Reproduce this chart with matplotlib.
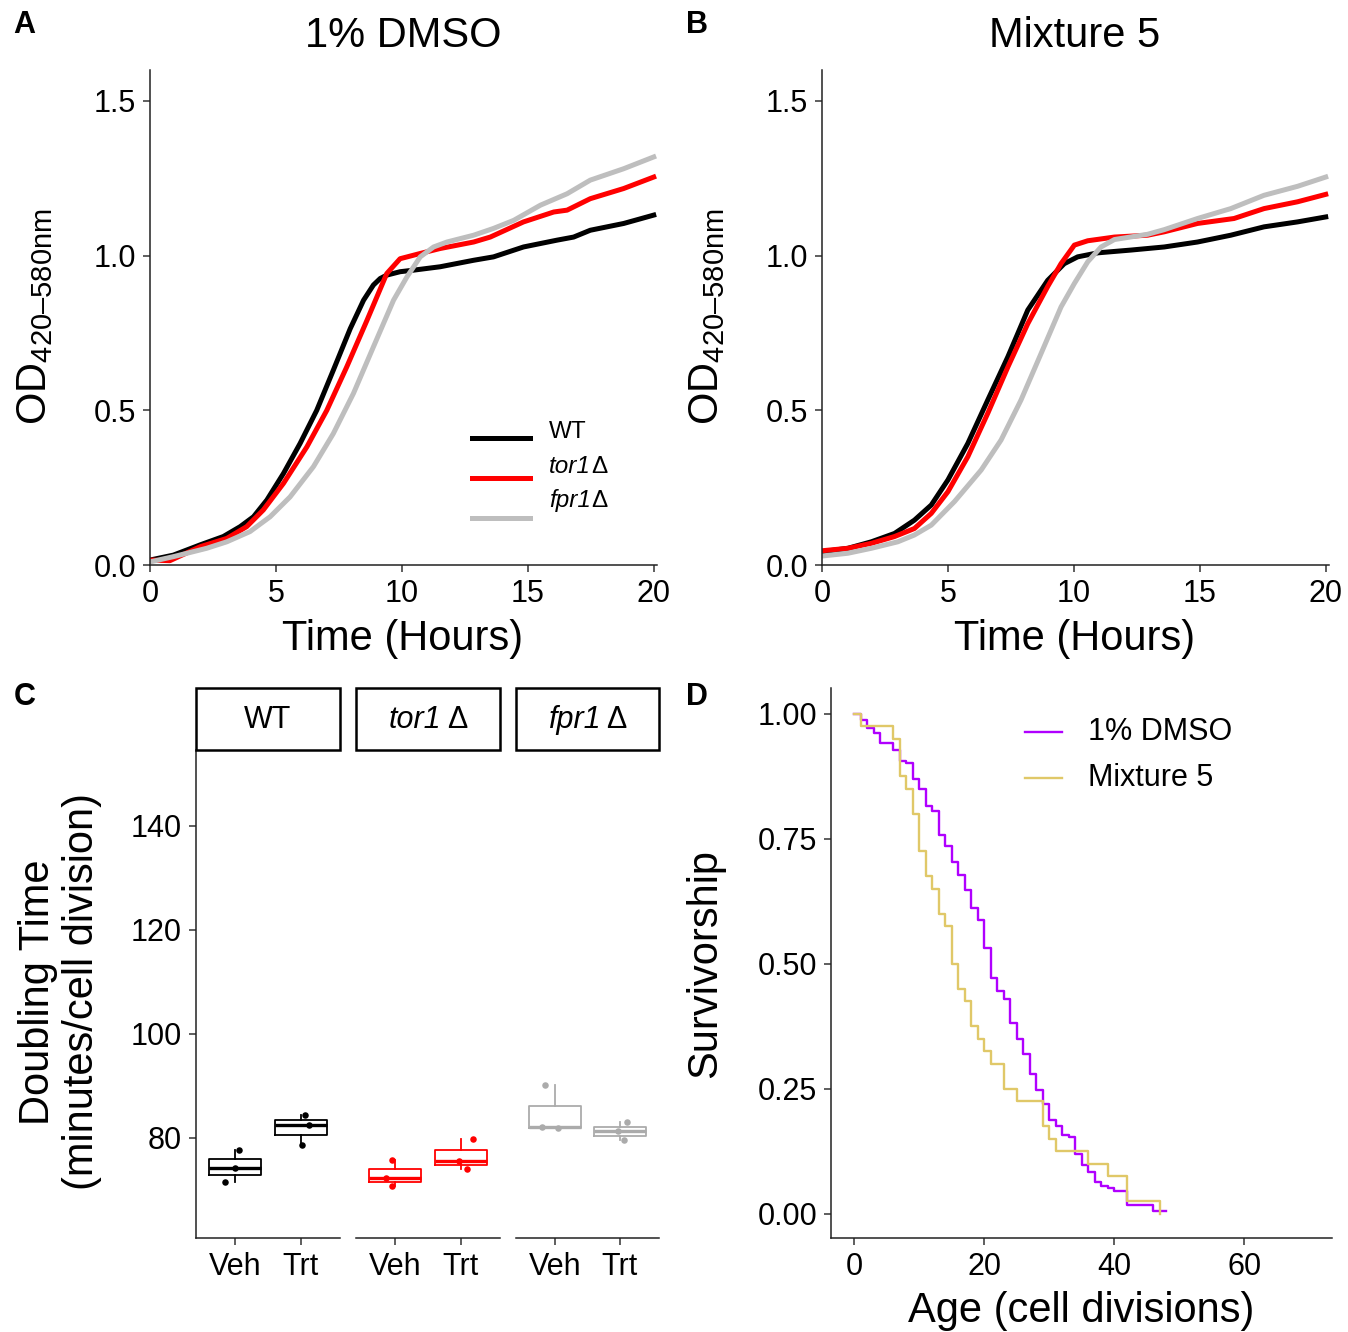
import numpy as np
import matplotlib
matplotlib.use('Agg')
import matplotlib.pyplot as plt
from matplotlib.lines import Line2D
from matplotlib.patches import Rectangle

plt.rcParams['font.family'] = ['Liberation Sans', 'DejaVu Sans']
plt.rcParams['mathtext.fontset'] = 'custom'
plt.rcParams['mathtext.rm'] = 'Liberation Sans'

W, H = 1348, 1332

# growth curves, panel A (1% DMSO)
a_wt_t = [0, 0.93, 1.99, 2.91, 3.58, 4.11, 4.64, 5.30, 5.96, 6.62, 7.28, 7.95, 8.48, 8.87, 9.14,
          9.4, 9.93, 10.46, 11.52, 12.85, 13.64, 14.83, 16.16, 16.82, 17.48, 18.81, 20.0]
a_wt_od = [0.016, 0.032, 0.065, 0.092, 0.124, 0.156, 0.21, 0.296, 0.393, 0.50, 0.63, 0.764, 0.856,
           0.905, 0.926, 0.937, 0.948, 0.953, 0.964, 0.985, 0.996, 1.028, 1.05, 1.06, 1.082, 1.104,
           1.131]
a_tor_t = [0, 0.79, 1.99, 3.05, 3.84, 4.50, 5.30, 6.23, 7.02, 7.81, 8.61, 9.40, 9.93, 10.73, 11.52,
           12.85, 13.51, 14.83, 16.03, 16.56, 17.48, 18.81, 20.0]
a_tor_od = [0.016, 0.014, 0.059, 0.086, 0.124, 0.178, 0.264, 0.382, 0.50, 0.64, 0.79, 0.942, 0.99,
            1.007, 1.023, 1.044, 1.06, 1.109, 1.141, 1.147, 1.184, 1.217, 1.254]
a_fpr_t = [0, 0.93, 2.25, 3.05, 3.97, 4.77, 5.56, 6.49, 7.28, 8.08, 8.87, 9.67, 10.2, 10.73, 11.26,
           11.79, 12.85, 13.64, 14.44, 15.5, 16.56, 17.48, 18.81, 20.0]
a_fpr_od = [0.01, 0.027, 0.054, 0.075, 0.108, 0.156, 0.22, 0.318, 0.425, 0.555, 0.705, 0.856, 0.931,
            0.996, 1.028, 1.044, 1.066, 1.088, 1.114, 1.163, 1.2, 1.244, 1.281, 1.319]

# growth curves, panel B (Mixture 5)
b_wt_t = [0, 1.03, 1.96, 2.88, 3.67, 4.34, 5.0, 5.79, 6.58, 7.38, 8.17, 8.96, 9.62, 10.15, 10.95,
          12.27, 13.59, 14.91, 16.23, 17.55, 18.88, 20.0]
b_wt_od = [0.043, 0.054, 0.075, 0.102, 0.145, 0.194, 0.275, 0.393, 0.533, 0.673, 0.824, 0.92, 0.974,
           0.996, 1.009, 1.018, 1.028, 1.044, 1.066, 1.093, 1.109, 1.125]
b_tor_t = [0, 1.03, 1.96, 2.88, 3.67, 4.34, 5.0, 5.79, 6.58, 7.38, 8.17, 8.96, 9.49, 10.02, 10.55,
           11.61, 12.93, 13.59, 14.91, 16.36, 17.55, 18.88, 20.0]
b_tor_od = [0.046, 0.054, 0.07, 0.092, 0.118, 0.167, 0.237, 0.35, 0.49, 0.64, 0.78, 0.90, 0.974,
            1.034, 1.048, 1.06, 1.066, 1.077, 1.104, 1.12, 1.152, 1.174, 1.198]
b_fpr_t = [0, 1.03, 1.96, 3.01, 3.67, 4.34, 5.26, 6.32, 7.11, 7.9, 8.7, 9.49, 10.02, 10.55, 11.08,
           11.61, 12.93, 13.59, 14.91, 16.23, 17.55, 18.88, 20.0]
b_fpr_od = [0.029, 0.038, 0.054, 0.075, 0.097, 0.129, 0.205, 0.307, 0.404, 0.533, 0.684, 0.834, 0.91,
            0.98, 1.028, 1.052, 1.069, 1.084, 1.12, 1.152, 1.195, 1.224, 1.254]

strains = ['WT', 'tor1', 'fpr1']       # gene names drawn in italics, followed by Δ
strain_cols = ['#000000', '#FF0000', '#BEBEBE']

# doubling times (minutes / cell division), 3 replicates each
wt_veh = [77.6, 74.1, 71.4]
wt_trt = [84.3, 82.4, 78.5]
tor_veh = [75.7, 72.2, 70.8]
tor_trt = [79.75, 75.6, 74.0]
fpr_veh = [90.2, 82.05, 81.85]
fpr_trt = [83.0, 81.3, 79.5]
box_cols = ['#000000', '#FF0000', '#ABABAB']

# replicative lifespan survival curves
dmso_age = [0, 1, 2, 3, 4, 6, 7, 8, 9, 10, 11, 12, 13, 14, 15, 16, 17, 18, 19, 20, 21, 22, 23, 24,
            25, 26, 27, 28, 29, 30, 31, 32, 33, 34, 35, 36, 37, 38, 39, 40, 42, 46, 48]
dmso_surv = [1.0, 0.987, 0.971, 0.961, 0.941, 0.927, 0.906, 0.901, 0.870, 0.850, 0.815, 0.805, 0.758,
             0.735, 0.703, 0.678, 0.648, 0.611, 0.588, 0.531, 0.471, 0.446, 0.430, 0.381, 0.349,
             0.319, 0.279, 0.248, 0.219, 0.188, 0.175, 0.158, 0.153, 0.119, 0.098, 0.083, 0.063,
             0.056, 0.051, 0.046, 0.017, 0.005, 0.005]
mix_death_age = [1, 6, 7, 8, 9, 10, 11, 12, 13, 14, 15, 16, 17, 18, 19, 20, 21, 23, 25, 29, 30, 31,
                 36, 39, 42, 47]
mix_deaths = [1, 1, 3, 1, 2, 3, 2, 1, 2, 1, 3, 2, 1, 2, 1, 1, 1, 2, 1, 2, 1, 1, 1, 1, 2, 1]


fig = plt.figure(figsize=(W / 100, H / 100), dpi=100)
renderer = fig.canvas.get_renderer()


def add_ax(l, t, r, b):
    return fig.add_axes([l / W, 1 - b / H, (r - l) / W, (b - t) / H])


def txt(x, y, s, **kw):
    return fig.text(x / W, 1 - y / H, s, **kw)


def gene_label(x, y, name, fs, gap, va, center=False):
    # italic gene name followed by an upright delta
    t1 = txt(x, y, name, fontsize=fs, fontstyle='italic', ha='left', va=va)
    t2 = txt(x, y, 'Δ', fontsize=fs, ha='left', va=va)
    w1 = t1.get_window_extent(renderer).width
    w2 = t2.get_window_extent(renderer).width
    x0 = x - (w1 + gap + w2) / 2 if center else x
    t1.set_x(x0 / W)
    t2.set_x((x0 + w1 + gap) / W)


def style(ax, pad=5):
    for s in ['top', 'right']:
        ax.spines[s].set_visible(False)
    for s in ['left', 'bottom']:
        ax.spines[s].set_linewidth(1.1)
        ax.spines[s].set_color('#222222')
    ax.tick_params(length=5, width=1.1, color='#333333', labelsize=22, pad=pad,
                   labelcolor='black')


# ---- panels A and B ----
panels = [
    (150, [(a_wt_t, a_wt_od), (a_tor_t, a_tor_od), (a_fpr_t, a_fpr_od)], '1% DMSO'),
    (822, [(b_wt_t, b_wt_od), (b_tor_t, b_tor_od), (b_fpr_t, b_fpr_od)], 'Mixture 5'),
]
for left, curves, title in panels:
    ax = add_ax(left, 70, left + 507, 565)
    for (t, od), c in zip(curves, strain_cols):
        ax.plot(t, od, color=c, lw=3.6)
    ax.set_xlim(0, 20.13)
    ax.set_ylim(0, 1.6)
    ax.set_xticks([0, 5, 10, 15, 20])
    ax.set_yticks([0, 0.5, 1.0, 1.5])
    ax.set_yticklabels(['0.0', '0.5', '1.0', '1.5'])
    style(ax)
    txt(left + 253, 47, title, fontsize=30, ha='center', va='baseline')
    txt(left + 253, 650, 'Time (Hours)', fontsize=30, ha='center', va='baseline')
    txt(left - 115, 317, 'OD$_{\\mathregular{420–580nm}}$', fontsize=30, rotation=90,
        ha='center', va='center')

# legend for A
for y, c in zip([438, 478, 518], strain_cols):
    fig.add_artist(Line2D([472 / W, 530 / W], [1 - y / H, 1 - y / H], color=c, lw=3.6))
txt(549, 438, strains[0], fontsize=17.5, ha='left', va='baseline')
gene_label(549, 473, strains[1], 17.5, 0, 'baseline')
gene_label(549, 507, strains[2], 17.5, 0, 'baseline')

# ---- panel C ----
groups = [(wt_veh, wt_trt), (tor_veh, tor_trt), (fpr_veh, fpr_trt)]
jit = [[0.06, -0.01, -0.15], [0.06, 0.13, 0.02], [-0.05, -0.14, -0.05],
       [0.19, -0.03, 0.10], [-0.16, -0.2, 0.05], [0.1, -0.03, 0.06]]
facet_x = [(196, 340), (356, 500), (516, 659)]
for i, ((veh, trt), (l, r), c) in enumerate(zip(groups, facet_x, box_cols)):
    ax = add_ax(l, 750, r, 1238)
    ax.boxplot([veh, trt], positions=[1, 2], widths=0.8, showcaps=False, showfliers=False,
               boxprops=dict(color=c, lw=1.3), whiskerprops=dict(color=c, lw=1.3),
               medianprops=dict(color=c, lw=2.4))
    for k, vals in enumerate([veh, trt]):
        ax.scatter(np.full(3, k + 1.0) + np.array(jit[2 * i + k]), vals, s=22, color=c,
                   zorder=3, linewidths=0)
    ax.set_xlim(0.4, 2.6)
    ax.set_ylim(60.7, 154.6)
    ax.set_xticks([1, 2])
    ax.set_xticklabels(['Veh', 'Trt'])
    ax.set_yticks([80, 100, 120, 140])
    style(ax)
    if i > 0:
        ax.spines['left'].set_visible(False)
        ax.tick_params(axis='y', left=False, labelleft=False)
    fig.add_artist(Rectangle((l / W, 1 - 750 / H), (r - l) / W, 62 / H, facecolor='white',
                             edgecolor='black', lw=1.8, transform=fig.transFigure))
    if i == 0:
        txt((l + r) / 2, 720, strains[i], fontsize=22, ha='center', va='center')
    else:
        gene_label((l + r) / 2, 720, strains[i], 22, 5, 'center', center=True)

txt(60, 992, 'Doubling Time\n(minutes/cell division)', fontsize=30, rotation=90,
    ha='center', va='center', linespacing=1.1)

# ---- panel D ----
ax = add_ax(831, 688, 1332, 1238)
mix_age = [0] + mix_death_age
mix_surv = 1 - np.concatenate([[0], np.cumsum(mix_deaths)]) / np.sum(mix_deaths)
ax.step(dmso_age, dmso_surv, where='post', color='#B000FF', lw=1.7)
ax.step(mix_age, mix_surv, where='post', color='#E0C868', lw=1.7)
ax.set_xlim(-3.54, 73.5)
ax.set_ylim(-0.048, 1.051)
ax.set_xticks([0, 20, 40, 60])
ax.set_yticks([0, 0.25, 0.5, 0.75, 1.0])
ax.set_yticklabels(['0.00', '0.25', '0.50', '0.75', '1.00'])
style(ax)
txt(705, 963, 'Survivorship', fontsize=30, rotation=90, ha='center', va='center')
txt(1081, 1322, 'Age (cell divisions)', fontsize=30, ha='center', va='baseline')
for y, c, s in zip([732, 778], ['#B000FF', '#E0C868'], ['1% DMSO', 'Mixture 5']):
    fig.add_artist(Line2D([1025 / W, 1062 / W], [1 - y / H, 1 - y / H], color=c, lw=1.7))
    txt(1088, y, s, fontsize=22, ha='left', va='center')

# panel letters
for x, y, s in [(24, 25, 'A'), (697, 25, 'B'), (25, 697, 'C'), (697, 697, 'D')]:
    txt(x, y, s, fontsize=22, fontweight='bold', ha='center', va='center')

fig.savefig('out.png', dpi=100, facecolor='white')
